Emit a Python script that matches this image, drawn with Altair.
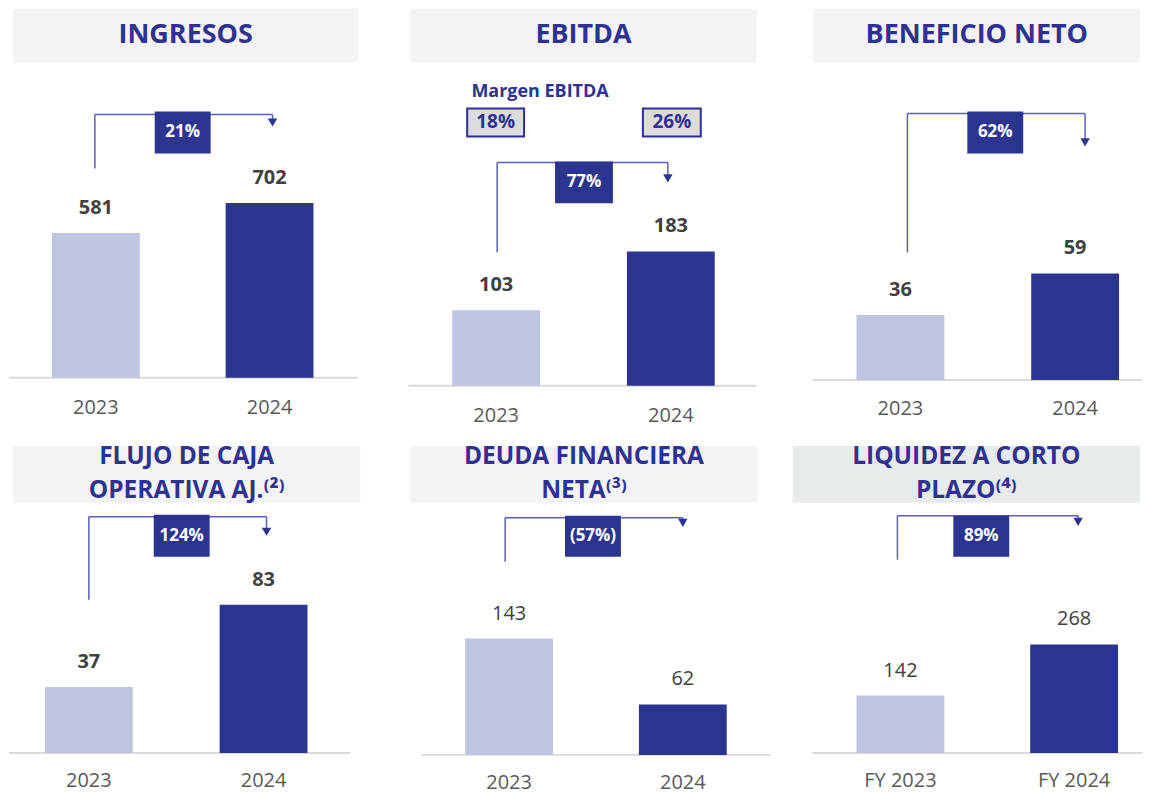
import altair as alt
import pandas as pd

# ---------------- data ----------------
years = ["2023", "2024"]
fy_years = ["FY 2023", "FY 2024"]
title_lines = [["INGRESOS"], ["EBITDA"], ["BENEFICIO NETO"],
               ["FLUJO DE CAJA", "OPERATIVA AJ."], ["DEUDA FINANCIERA", "NETA"],
               ["LIQUIDEZ A CORTO", "PLAZO"]]
footnotes = ["", "", "", "⁽²⁾", "⁽³⁾", "⁽⁴⁾"]
ingresos = [581, 702]
ebitda = [103, 183]
beneficio = [36, 59]
flujo = [37, 83]
deuda = [143, 62]
liquidez = [142, 268]
growth = ["21%", "77%", "62%", "124%", "(57%)", "89%"]
margen_title = "Margen EBITDA"
margen = ["18%", "26%"]

# ---------------- style ----------------
FONT = "Open Sans"
BLUE = "#2b3590"
LIGHT = "#bec5e1"
TITLE = "#2e3192"
ARROW = "#5b60b4"
GREY_TXT = "#404040"
AXIS_TXT = "#595959"

# layout (page pixel positions)
panels = [
    dict(cats=years, values=ingresos, origin=(8, 8), size=(392, 432), header=(12, 8, 358, 62), hfill="#f3f3f3",
         ty=34, tsize=27, base=377.7, basex=(8, 357), bars=(51, 313), k=0.2495, xlab=408, bold=True,
         arrow=dict(vx=94, vb=168, top=114, hx=272, tri=122, box=(154, 111, 210, 153))),
    dict(cats=years, values=ebitda, origin=(400, 8), size=(390, 432), header=(410, 8, 757, 62), hfill="#f3f3f3",
         ty=34, tsize=27, base=385.7, basex=(408, 757), bars=(452, 715), k=0.735, xlab=416, bold=True,
         arrow=dict(vx=497, vb=252, top=162, hx=668, tri=178, box=(555, 161, 613, 203))),
    dict(cats=years, values=beneficio, origin=(790, 8), size=(353, 432), header=(814, 8, 1141, 62), hfill="#f3f3f3",
         ty=34, tsize=27, base=380, basex=(813, 1143), bars=(857, 1120), k=1.81, xlab=409, bold=True,
         arrow=dict(vx=908, vb=252, top=113, hx=1086, tri=142, box=(968, 111, 1024, 153))),
    dict(cats=years, values=flujo, origin=(8, 440), size=(392, 352), header=(12, 446, 360, 503), hfill="#f3f3f3",
         ty=457, tsize=24.5, base=753.7, basex=(8, 350), bars=(44, 307), k=1.79, xlab=782, bold=True,
         arrow=dict(vx=88, vb=600, top=517, hx=266, tri=532, box=(153, 515, 209, 557))),
    dict(cats=years, values=deuda, origin=(400, 440), size=(390, 352), header=(410, 446, 758, 503), hfill="#f3f3f3",
         ty=457, tsize=24.5, base=755.5, basex=(421, 771), bars=(465, 727), k=0.815, xlab=784, bold=False,
         arrow=dict(vx=505, vb=562, top=518, hx=683, tri=523, box=(565, 516, 621, 557))),
    dict(cats=fy_years, values=liquidez, origin=(790, 440), size=(353, 352), header=(793, 446, 1141, 503), hfill="#e8ebeb",
         ty=457, tsize=24.5, base=753.7, basex=(813, 1143), bars=(857, 1119), k=0.406, xlab=782, bold=False,
         arrow=dict(vx=898, vb=560, top=516, hx=1079, tri=522, box=(954, 516, 1010, 557))),
]

one = pd.DataFrame({"a": [0]})


def make_panel(i, p):
    ox, oy = p["origin"]
    W, H = p["size"]
    lx = lambda v: v - ox
    ly = lambda v: v - oy
    df = pd.DataFrame({"cat": p["cats"], "value": p["values"], "period": years,
                       "label": [str(v) for v in p["values"]]})
    base_l = ly(p["base"])
    D = max(p["values"]) * 1.3
    L, R = lx(p["bars"][0]), lx(p["bars"][1])
    step = (R - L) - 88
    pad_in = 1 - 88 / step
    xenc = alt.X("cat:N", axis=None, sort=p["cats"],
                 scale=alt.Scale(domain=p["cats"], range=[L, R], paddingInner=pad_in, paddingOuter=0))
    yenc = alt.Y("value:Q", axis=None,
                 scale=alt.Scale(domain=[0, D], range=[base_l, base_l - D * p["k"]], nice=False, zero=True))
    col = alt.Color("period:N", legend=None, scale=alt.Scale(domain=years, range=[LIGHT, BLUE]))

    layers = []
    # header box
    hx0, hy0, hx1, hy1 = p["header"]
    layers.append(alt.Chart(one).mark_rect(color=p["hfill"]).encode(
        x=alt.value(lx(hx0)), x2=alt.value(lx(hx1)), y=alt.value(ly(hy0)), y2=alt.value(ly(hy1))))
    cx = (hx0 + hx1) / 2
    lines = list(title_lines[i])
    lines[-1] = lines[-1] + footnotes[i]
    ttext = lines[0] if len(lines) == 1 else lines
    layers.append(alt.Chart(one).mark_text(font=FONT, fontSize=p["tsize"], fontWeight="bold", color=TITLE,
                                           align="center", baseline="middle", lineHeight=34).encode(
        x=alt.value(lx(cx)), y=alt.value(ly(p["ty"])), text=alt.value(ttext)))

    # baseline
    layers.append(alt.Chart(one).mark_rule(color="#d9d9d9", strokeWidth=2).encode(
        x=alt.value(lx(p["basex"][0])), x2=alt.value(lx(p["basex"][1])), y=alt.value(base_l)))

    # bars + value labels + category labels
    layers.append(alt.Chart(df).mark_bar().encode(x=xenc, y=yenc, color=col))
    layers.append(alt.Chart(df).mark_text(font=FONT, fontSize=20, fontWeight="bold" if p["bold"] else "normal",
                                          color=GREY_TXT, baseline="middle", dy=-25).encode(
        x=xenc, y=yenc, text="label:N"))
    layers.append(alt.Chart(df).mark_text(font=FONT, fontSize=20, color=AXIS_TXT, baseline="middle").encode(
        x=xenc, y=alt.value(ly(p["xlab"])), text="cat:N"))

    # growth arrow
    a = p["arrow"]
    layers.append(alt.Chart(one).mark_rule(color=ARROW, strokeWidth=1.5).encode(
        x=alt.value(lx(a["vx"])), y=alt.value(ly(a["top"])), y2=alt.value(ly(a["vb"]))))
    layers.append(alt.Chart(one).mark_rule(color=ARROW, strokeWidth=1.5).encode(
        x=alt.value(lx(a["vx"])), x2=alt.value(lx(a["hx"])), y=alt.value(ly(a["top"]))))
    layers.append(alt.Chart(one).mark_rule(color=ARROW, strokeWidth=1.5).encode(
        x=alt.value(lx(a["hx"])), y=alt.value(ly(a["top"])), y2=alt.value(ly(a["tri"]))))
    layers.append(alt.Chart(one).mark_point(shape="triangle-down", filled=True, size=90, color=BLUE, opacity=1).encode(
        x=alt.value(lx(a["hx"])), y=alt.value(ly(a["tri"]))))
    bx0, by0, bx1, by1 = a["box"]
    layers.append(alt.Chart(one).mark_rect(color=BLUE).encode(
        x=alt.value(lx(bx0)), x2=alt.value(lx(bx1)), y=alt.value(ly(by0)), y2=alt.value(ly(by1))))
    layers.append(alt.Chart(one).mark_text(font=FONT, fontSize=17, fontWeight="bold", color="white",
                                           baseline="middle").encode(
        x=alt.value(lx((bx0 + bx1) / 2)), y=alt.value(ly((by0 + by1) / 2)), text=alt.value(growth[i])))

    # EBITDA margin annotations
    if i == 1:
        layers.append(alt.Chart(one).mark_text(font=FONT, fontSize=18, fontWeight="bold", color=TITLE,
                                               baseline="middle").encode(
            x=alt.value(lx(540)), y=alt.value(ly(91)), text=alt.value(margen_title)))
        for (mx0, mx1), m in zip([(467, 524), (643, 701)], margen):
            layers.append(alt.Chart(one).mark_rect(color="#dcdcdc", stroke=TITLE, strokeWidth=2).encode(
                x=alt.value(lx(mx0)), x2=alt.value(lx(mx1)), y=alt.value(ly(108)), y2=alt.value(ly(136))))
            layers.append(alt.Chart(one).mark_text(font=FONT, fontSize=19, fontWeight="bold", color=TITLE,
                                                   baseline="middle").encode(
                x=alt.value(lx((mx0 + mx1) / 2)), y=alt.value(ly(122)), text=alt.value(m)))

    return alt.layer(*layers).properties(width=W, height=H).resolve_scale(color="shared")


charts = [make_panel(i, p) for i, p in enumerate(panels)]
chart = alt.concat(*charts, columns=3, spacing=0, bounds="flush").resolve_scale(
    x="independent", y="independent").properties(padding=0).configure_view(strokeWidth=0)

chart.save("out.html", embed_options={"renderer": "svg", "actions": False})
